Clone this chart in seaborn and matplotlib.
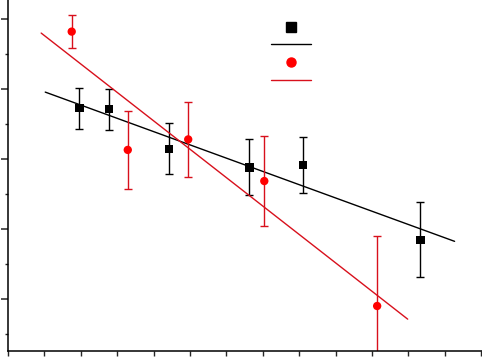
import numpy as np
import pandas as pd
import matplotlib
matplotlib.use("Agg")
import matplotlib.pyplot as plt
from matplotlib.lines import Line2D
from matplotlib.ticker import MultipleLocator
import seaborn as sns

# -----------------------------
# Data
# -----------------------------
black_x = [1.96, 2.77, 4.42, 6.63, 8.11, 11.33]
black_y = [5.45, 5.42, 4.29, 3.76, 3.83, 1.69]
black_err = [0.58, 0.58, 0.73, 0.80, 0.79, 1.07]

red_x = [1.75, 3.29, 4.95, 7.04, 10.14]
red_y = [7.64, 4.26, 4.56, 3.37, -0.20]
red_err = [0.47, 1.11, 1.07, 1.29, 2.00]

RED = "#ff0000"
RED_LINE = "#d8101c"

sns.set_style("ticks")
plt.rcParams["font.family"] = ["DejaVu Sans"]

fig = plt.figure(figsize=(4.82, 3.6), dpi=100)
ax = fig.add_axes([8 / 482, 9 / 360, 474 / 482, 351 / 360])


def fit_line(x, y):
    # linear fit, extended 10% of the x range on both ends
    x = np.asarray(x)
    slope, icept = np.polyfit(x, y, 1)
    pad = 0.1 * (x.max() - x.min())
    xs = np.array([x.min() - pad, x.max() + pad])
    return pd.DataFrame({"x": xs, "y": slope * xs + icept})


groups = [
    (black_x, black_y, black_err, "black", "black", "s"),
    (red_x, red_y, red_err, RED, RED_LINE, "o"),
]

for gx, gy, gerr, mcol, lcol, mk in groups:
    fit = fit_line(gx, gy)
    sns.lineplot(data=fit, x="x", y="y", color=lcol, lw=1.0, ax=ax)
    ax.errorbar(gx, gy, yerr=gerr, fmt="none", ecolor=lcol, elinewidth=1.0,
                capsize=3.0, capthick=1.0)
    df = pd.DataFrame({"x": gx, "y": gy})
    sns.scatterplot(data=df, x="x", y="y", marker=mk, color=mcol, s=36,
                    edgecolor="none", ax=ax, zorder=5)

ax.set_xlim(0, 13.02)
ax.set_ylim(-1.486, 8.543)
ax.xaxis.set_major_locator(MultipleLocator(1))
ax.yaxis.set_major_locator(MultipleLocator(2))
ax.yaxis.set_minor_locator(MultipleLocator(1))
ax.tick_params(axis="y", which="major", length=5, width=1.1, labelleft=False)
ax.tick_params(axis="y", which="minor", length=2.5, width=1.0)
ax.tick_params(axis="x", which="major", length=3.6, width=1.0, labelbottom=False)
ax.set_xlabel("")
ax.set_ylabel("")
for side in ["top", "right"]:
    ax.spines[side].set_visible(False)
for side in ["left", "bottom"]:
    ax.spines[side].set_linewidth(1.1)
    ax.spines[side].set_color("black")

handles = [
    Line2D([], [], ls="none", marker="s", color="black", markersize=6.5),
    Line2D([], [], color="black", lw=1.0),
    Line2D([], [], ls="none", marker="o", color=RED, markersize=6.5),
    Line2D([], [], color=RED_LINE, lw=1.0),
]
fig.legend(handles, ["", "", "", ""], loc="center",
           bbox_to_anchor=(291 / 482, 1 - 54 / 360), frameon=False,
           handlelength=2.88, handletextpad=0, borderpad=0,
           labelspacing=0.26, fontsize=10)

fig.savefig("out.png", dpi=100)
